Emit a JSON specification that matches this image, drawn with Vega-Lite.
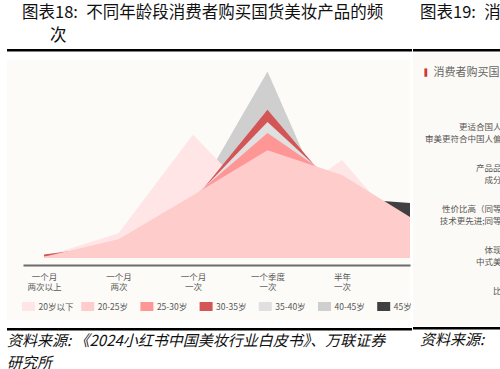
{
  "$schema": "https://vega.github.io/schema/vega-lite/v6.json",
  "background": "white",
  "padding": {"left": 7, "top": 4, "right": 0, "bottom": 0},
  "spacing": 1,
  "bounds": "full",
  "hconcat": [
    {
      "title": {"text": ["图表18:\u2002不同年龄段消费者购买国货美妆产品的频", "\u200b\u3000\u2002\u2009次"], "anchor": "start", "dx": 15, "fontSize": 16.5, "lineHeight": 23, "fontWeight": "normal", "color": "#111111", "offset": 5},
      "spacing": 8,
      "vconcat": [
        {"width": 405, "height": 2.5, "data": {"values": []}, "mark": "text", "view": {"fill": "#000000", "stroke": null}},
        {
          "width": 403,
          "height": 260,
          "view": {"fill": "#FCFBF8", "stroke": null},
          "data": {"values": [
            {"age": "20岁以下", "freq": "一个月两次以上", "idx": 0, "pct": 0.3},
            {"age": "20岁以下", "freq": "一个月两次", "idx": 1, "pct": 6.3},
            {"age": "20岁以下", "freq": "一个月一次", "idx": 2, "pct": 31.5},
            {"age": "20岁以下", "freq": "一个季度一次", "idx": 3, "pct": 11.7},
            {"age": "20岁以下", "freq": "半年一次", "idx": 4, "pct": 25.0},
            {"age": "20岁以下", "freq": "一年一次", "idx": 5, "pct": 3.0},
            {"age": "20-25岁", "freq": "一个月两次以上", "idx": 0, "pct": 0.3},
            {"age": "20-25岁", "freq": "一个月两次", "idx": 1, "pct": 4.8},
            {"age": "20-25岁", "freq": "一个月一次", "idx": 2, "pct": 16.0},
            {"age": "20-25岁", "freq": "一个季度一次", "idx": 3, "pct": 27.5},
            {"age": "20-25岁", "freq": "半年一次", "idx": 4, "pct": 21.2},
            {"age": "20-25岁", "freq": "一年一次", "idx": 5, "pct": 9.4},
            {"age": "25-30岁", "freq": "一个月两次以上", "idx": 0, "pct": 0.3},
            {"age": "25-30岁", "freq": "一个月两次", "idx": 1, "pct": 3.0},
            {"age": "25-30岁", "freq": "一个月一次", "idx": 2, "pct": 15.5},
            {"age": "25-30岁", "freq": "一个季度一次", "idx": 3, "pct": 31.9},
            {"age": "25-30岁", "freq": "半年一次", "idx": 4, "pct": 18.8},
            {"age": "25-30岁", "freq": "一年一次", "idx": 5, "pct": 6.0},
            {"age": "30-35岁", "freq": "一个月两次以上", "idx": 0, "pct": 0.9},
            {"age": "30-35岁", "freq": "一个月两次", "idx": 1, "pct": 3.3},
            {"age": "30-35岁", "freq": "一个月一次", "idx": 2, "pct": 14.5},
            {"age": "30-35岁", "freq": "一个季度一次", "idx": 3, "pct": 37.8},
            {"age": "30-35岁", "freq": "半年一次", "idx": 4, "pct": 15.4},
            {"age": "30-35岁", "freq": "一年一次", "idx": 5, "pct": 5.0},
            {"age": "35-40岁", "freq": "一个月两次以上", "idx": 0, "pct": 0.3},
            {"age": "35-40岁", "freq": "一个月两次", "idx": 1, "pct": 3.0},
            {"age": "35-40岁", "freq": "一个月一次", "idx": 2, "pct": 15.0},
            {"age": "35-40岁", "freq": "一个季度一次", "idx": 3, "pct": 34.7},
            {"age": "35-40岁", "freq": "半年一次", "idx": 4, "pct": 17.2},
            {"age": "35-40岁", "freq": "一年一次", "idx": 5, "pct": 5.0},
            {"age": "40-45岁", "freq": "一个月两次以上", "idx": 0, "pct": 0.3},
            {"age": "40-45岁", "freq": "一个月两次", "idx": 1, "pct": 3.5},
            {"age": "40-45岁", "freq": "一个月一次", "idx": 2, "pct": 14.7},
            {"age": "40-45岁", "freq": "一个季度一次", "idx": 3, "pct": 47.6},
            {"age": "40-45岁", "freq": "半年一次", "idx": 4, "pct": 4.3},
            {"age": "40-45岁", "freq": "一年一次", "idx": 5, "pct": 2.0},
            {"age": "45岁以上", "freq": "一个月两次以上", "idx": 0, "pct": 0.2},
            {"age": "45岁以上", "freq": "一个月两次", "idx": 1, "pct": 1.5},
            {"age": "45岁以上", "freq": "一个月一次", "idx": 2, "pct": 6.0},
            {"age": "45岁以上", "freq": "一个季度一次", "idx": 3, "pct": 18.0},
            {"age": "45岁以上", "freq": "半年一次", "idx": 4, "pct": 15.3},
            {"age": "45岁以上", "freq": "一年一次", "idx": 5, "pct": 13.9}
          ]},
          "encoding": {
            "x": {
              "field": "idx", "type": "quantitative",
              "scale": {"domain": [-0.2819, 4.9128], "range": [16, 403], "nice": false, "zero": false},
              "axis": {
                "values": [0, 1, 2, 3, 4],
                "labelExpr": "[['一个月','两次以上'],['一个月','两次'],['一个月','一次'],['一个季度','一次'],['半年','一次'],['一年','一次']][datum.value]",
                "offset": -55, "domainColor": "#6B6B6B", "domainWidth": 2, "ticks": false, "grid": false,
                "labelFontSize": 8.5, "labelColor": "#595959", "labelPadding": 7, "labelLineHeight": 10.5,
                "labelAngle": 0, "labelOverlap": false, "labelFlush": false, "title": null
              }
            },
            "y": {"field": "pct", "type": "quantitative", "stack": null, "scale": {"domain": [0, 50], "range": [198, 2], "nice": false}, "axis": null},
            "color": {
              "field": "age", "type": "nominal",
              "scale": {
                "domain": ["20岁以下", "20-25岁", "25-30岁", "30-35岁", "35-40岁", "40-45岁", "45岁以上"],
                "range": ["#FFE5E6", "#FFCCCC", "#FF9696", "#D35556", "#E0E0E0", "#CFCFCF", "#404040"]
              },
              "legend": {
                "orient": "none", "legendX": 15, "legendY": 251, "direction": "horizontal", "columns": 7, "title": null,
                "symbolType": "M-1,-0.69H1V0.69H-1Z", "symbolSize": 169, "symbolStrokeWidth": 0, "symbolOpacity": 1,
                "labelExpr": "datum.label === '45岁以上' ? '45岁' : datum.label",
                "labelFontSize": 8.5, "labelColor": "#595959", "labelOffset": 3.5, "columnPadding": 7.2, "gridAlign": "all", "padding": 0
              }
            }
          },
          "layer": [
            {"transform": [{"filter": "datum.age === '45岁以上'"}], "mark": {"type": "area", "clip": true, "opacity": 1}},
            {"transform": [{"filter": "datum.age === '40-45岁'"}], "mark": {"type": "area", "clip": true, "opacity": 1}},
            {"transform": [{"filter": "datum.age === '20岁以下'"}], "mark": {"type": "area", "clip": true, "opacity": 1}},
            {"transform": [{"filter": "datum.age === '30-35岁'"}], "mark": {"type": "area", "clip": true, "opacity": 1}},
            {"transform": [{"filter": "datum.age === '35-40岁'"}], "mark": {"type": "area", "clip": true, "opacity": 1}},
            {"transform": [{"filter": "datum.age === '25-30岁'"}], "mark": {"type": "area", "clip": true, "opacity": 1}},
            {"transform": [{"filter": "datum.age === '20-25岁'"}], "mark": {"type": "area", "clip": true, "opacity": 1}}
          ]
        },
        {
          "width": 405, "height": 2.5, "data": {"values": []}, "mark": "text", "view": {"fill": "#000000", "stroke": null},
          "title": {"text": ["资料来源: 《2024小红书中国美妆行业白皮书》、万联证券", "研究所"], "orient": "bottom", "anchor": "start", "fontSize": 15, "fontStyle": "italic", "fontWeight": "normal", "lineHeight": 22, "offset": 3, "color": "#111111"}
        }
      ]
    },
    {
      "title": {"text": "图表19:\u2002消", "anchor": "start", "dx": 7, "fontSize": 16.5, "lineHeight": 23, "fontWeight": "normal", "color": "#111111", "offset": 28},
      "spacing": 1,
      "vconcat": [
        {"width": 300, "height": 2.5, "data": {"values": []}, "mark": "text", "view": {"fill": "#000000", "stroke": null}},
        {
          "width": 300,
          "height": 273,
          "view": {"fill": "#FCFAF6", "stroke": null},
          "data": {"values": [
            {"reason": "更适合国人\n审美更符合中国人偏\u3000", "share": 40},
            {"reason": "产品品\n成分", "share": 35},
            {"reason": "性价比高（同等\n技术更先进;同等", "share": 30},
            {"reason": "体现\n中式美", "share": 20},
            {"reason": "比", "share": 15}
          ]},
          "mark": {"type": "bar", "color": "#C9373B"},
          "encoding": {
            "y": {
              "field": "reason", "type": "nominal", "sort": null,
              "scale": {"range": [53.5, 258.5], "paddingInner": 0.4},
              "axis": {
                "orient": "left", "offset": -90, "ticks": false, "domain": false, "grid": false, "labelPadding": 2,
                "labelAlign": "right", "labelBaseline": "middle", "labelExpr": "split(datum.label, '\\n')",
                "labelFontSize": 8.5, "labelColor": "#555555", "labelLineHeight": 11.5, "labelLimit": 0,
                "title": "▌", "titleColor": "#D0363A", "titleAngle": 0, "titleX": -79, "titleY": 19,
                "titleAlign": "left", "titleBaseline": "middle", "titleFontSize": 7, "titleFont": "DejaVu Sans", "titleFontWeight": "normal"
              }
            },
            "x": {
              "field": "share", "type": "quantitative",
              "scale": {"domain": [0, 50], "range": [100, 290]},
              "axis": {
                "orient": "top", "labels": false, "ticks": false, "domain": false, "grid": false,
                "title": "消费者购买国", "titleX": 20, "titleY": 19, "titleAlign": "left", "titleBaseline": "middle",
                "titleFontSize": 11, "titleColor": "#666666", "titleFontWeight": "normal"
              }
            }
          }
        },
        {
          "width": 300, "height": 2.5, "data": {"values": []}, "mark": "text", "view": {"fill": "#000000", "stroke": null},
          "title": {"text": ["资料来源:"], "orient": "bottom", "anchor": "start", "dx": 7, "fontSize": 15, "fontStyle": "italic", "fontWeight": "normal", "lineHeight": 22, "offset": 3, "color": "#111111"}
        }
      ]
    }
  ],
  "config": {
    "font": "Noto Sans CJK SC",
    "view": {"stroke": null},
    "axis": {"labelFont": "Noto Sans CJK SC", "titleFont": "Noto Sans CJK SC"},
    "legend": {"labelFont": "Noto Sans CJK SC"},
    "title": {"font": "Noto Sans CJK SC"}
  }
}
